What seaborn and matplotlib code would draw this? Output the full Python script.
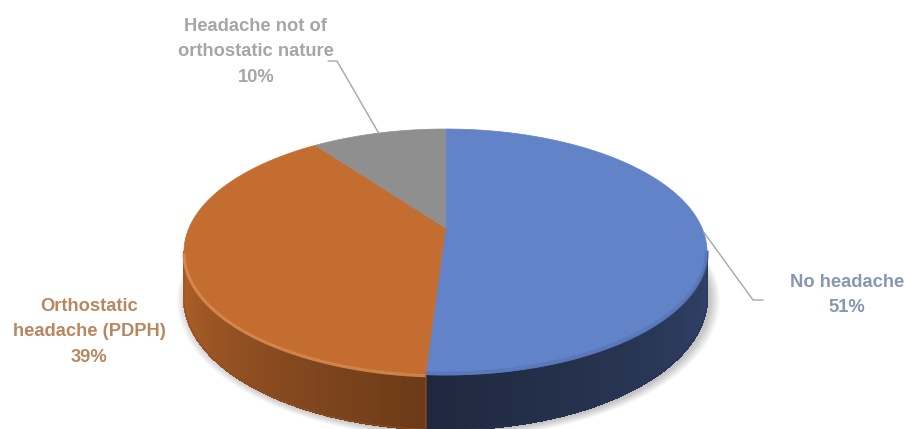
import numpy as np
import matplotlib
matplotlib.use("Agg")
import matplotlib.pyplot as plt
import seaborn as sns
from matplotlib.collections import PolyCollection
from matplotlib.patches import Polygon
from matplotlib.colors import to_rgb

# ---- data -------------------------------------------------------------
categories = ["No headache", "Orthostatic headache (PDPH)",
              "Headache not of orthostatic nature"]
values = [51, 39, 10]
label_lines = [["No headache", "51%"],
               ["Orthostatic", "headache (PDPH)", "39%"],
               ["Headache not of", "orthostatic nature", "10%"]]

# ---- styles -----------------------------------------------------------
top_colors = ["#6383C8", "#C46D30", "#8F8F8F"]
side_light = ["#31426A", "#B3632A", "#7C7C7C"]
side_dark = ["#1F283D", "#6B3A18", "#5C5C5C"]
text_colors = ["#8597B1", "#B9875F", "#A6A6A6"]
label_centers = [(847, 293), (89, 330), (256, 50)]
leader_elbows = [[(753, 300), (763, 300)], None, [(337, 61), (328, 61)]]

sns.set_theme(style="white")
plt.rcParams["font.family"] = ["Liberation Sans", "DejaVu Sans"]
palette = sns.color_palette(top_colors)

fig = plt.figure(figsize=(9.06, 4.29), dpi=100)
ax = fig.add_axes([0, 0, 1, 1])
ax.set_xlim(0, 906)
ax.set_ylim(429, 0)
ax.axis("off")

# perspective projection of a disc lying on a table
CX, CY = 445.5, 228.0
SX, SY = 256.5, 118.3
K = 0.195
H = 44.0


def proj(t, drop=0.0):
    t = np.asarray(t, dtype=float)
    X, Y = np.cos(t), np.sin(t)
    w = 1 + K * Y
    return CX + SX * X / w, CY - SY * Y / w + drop * H / w


fracs = np.array(values, dtype=float) / np.sum(values)
starts = np.pi / 2 - 2 * np.pi * np.concatenate([[0], np.cumsum(fracs)[:-1]])
ends = starts - 2 * np.pi * fracs

# ---- soft shadow ---------------------------------------------------------
tt = np.linspace(0, 2 * np.pi, 300)
bx, by = proj(tt, 1.0)
for i in range(12):
    s = 1 + 0.0035 * i
    px = CX + (bx - CX) * s + 3
    py = (CY + 30) + (by - CY - 30) * s + 2
    ax.add_patch(Polygon(np.c_[px, py], closed=True, facecolor="black",
                         edgecolor="none", alpha=0.018, zorder=1))

# ---- side walls ---------------------------------------------------------
a = np.arcsin(K)
front_lo, front_hi = -np.pi + a, -a
for i in range(len(values)):
    lo, hi = ends[i], starts[i]
    for shift in (-2 * np.pi, 0, 2 * np.pi):
        f0, f1 = front_lo + shift, front_hi + shift
        s0, s1 = max(lo, f0), min(hi, f1)
        if s1 <= s0:
            continue
        n = max(int((s1 - s0) * 120), 4)
        ts = np.linspace(s0, s1, n + 1)
        c_light = np.array(to_rgb(side_light[i]))
        c_dark = np.array(to_rgb(side_dark[i]))
        polys, cols = [], []
        for j in range(n):
            xa, ya = proj(ts[j], 0)
            xb, yb = proj(ts[j + 1], 0)
            xc, yc = proj(ts[j + 1], 1)
            xd, yd = proj(ts[j], 1)
            polys.append([(xa, ya), (xb, yb), (xc, yc), (xd, yd)])
            if i == 0:
                u = (ts[j] - s1) / (s0 - s1)
            else:
                u = (ts[j] - s0) / (s1 - s0)
            u = np.clip(u, 0, 1)
            cols.append(tuple(c_light * (1 - u) + c_dark * u))
        pc = PolyCollection(polys, facecolors=cols, edgecolors=cols,
                            linewidths=1.0, antialiaseds=False, zorder=2)
        ax.add_collection(pc)
        # anti-aliased outline of the whole wall to keep its contour smooth
        xt, yt = proj(ts, 0)
        xbm, ybm = proj(ts[::-1], 1)
        ax.add_patch(Polygon(np.c_[np.r_[xt, xbm], np.r_[yt, ybm]],
                             closed=True, facecolor="none",
                             edgecolor=tuple(c_dark * 0.5 + c_light * 0.5),
                             linewidth=0.6, zorder=2.1))

# ---- top faces ------------------------------------------------------------
for i in range(len(values)):
    ts = np.linspace(starts[i], ends[i], 200)
    x, y = proj(ts, 0)
    pts = np.vstack([[CX, CY], np.c_[x, y]])
    ax.add_patch(Polygon(pts, closed=True, facecolor=palette[i],
                         edgecolor=palette[i], linewidth=0.5, zorder=3))

# bevel highlight on the front rim of the orange slice
s0, s1 = max(ends[1], front_lo), min(starts[1], front_hi)
ts = np.linspace(s0, s1, 200)
x, y = proj(ts, 0)
ax.plot(x, y + 1.2, color="#DC8E50", lw=2.2, alpha=0.85,
        solid_capstyle="butt", zorder=4)
# soft edge on the front rim of the blue slice
s0, s1 = max(ends[0], front_lo), min(starts[0], front_hi)
ts = np.linspace(s0, s1, 200)
x, y = proj(ts, 0)
ax.plot(x, y - 1.5, color="#5573B5", lw=3, alpha=0.6,
        solid_capstyle="butt", zorder=4)

# ---- labels and leader lines ------------------------------------------
fs = 13.2
line_gap = 25.8
for i in range(len(values)):
    cx, cy = label_centers[i]
    lines = label_lines[i]
    n = len(lines)
    for k, txt in enumerate(lines):
        ax.text(cx, cy + (k - (n - 1) / 2) * line_gap, txt, ha="center",
                va="center_baseline", fontsize=fs, fontweight="bold",
                color=text_colors[i], zorder=6)
    if leader_elbows[i] is not None:
        mid = (starts[i] + ends[i]) / 2
        sx, sy = proj(mid, 0)
        xs = [float(sx)] + [p[0] for p in leader_elbows[i]]
        ys = [float(sy)] + [p[1] for p in leader_elbows[i]]
        ax.plot(xs, ys, color="#A6A6A6", lw=1.0, zorder=5)

fig.savefig("out.png", dpi=100, facecolor="white")
